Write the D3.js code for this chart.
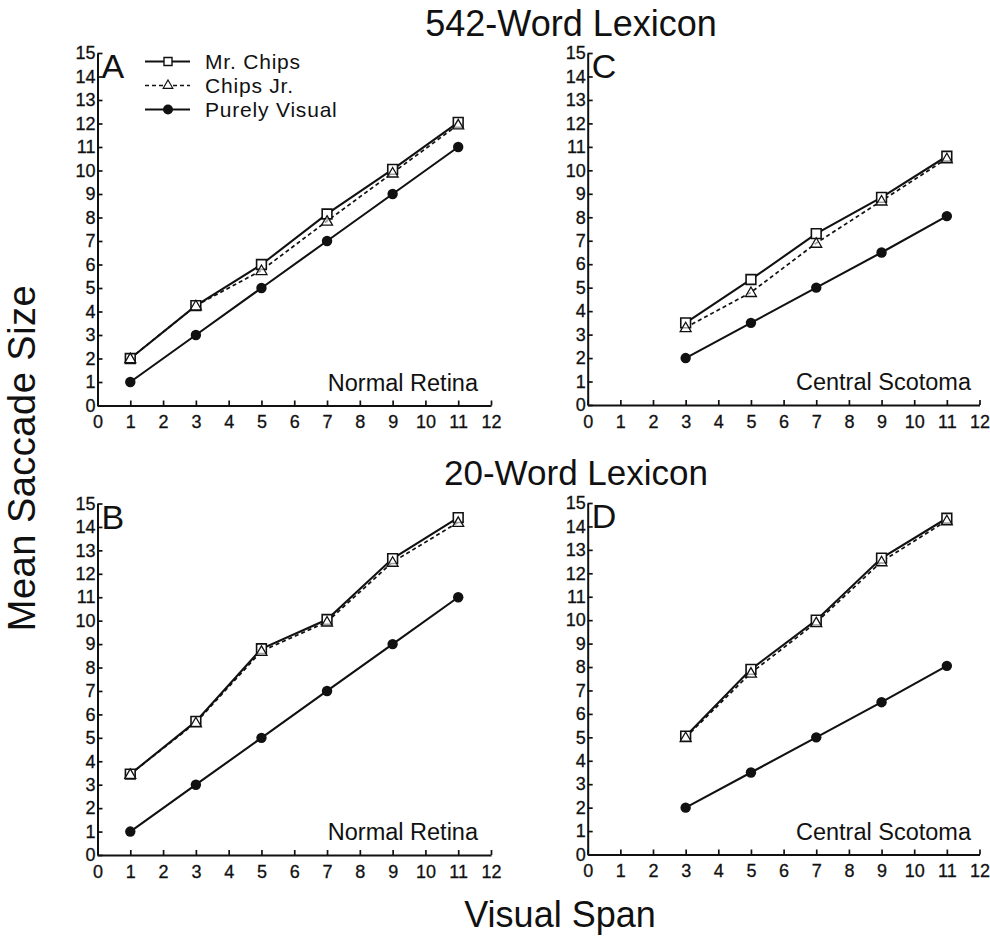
<!DOCTYPE html>
<html>
<head>
<meta charset="utf-8">
<script src="https://cdn.jsdelivr.net/npm/d3@7"></script>
<style>
  html, body { margin: 0; padding: 0; background: #fff; }
  svg { display: block; }
  text { font-family: "Liberation Sans", Arial, Helvetica, sans-serif; fill: #111; }
</style>
</head>
<body>
<svg id="chart" width="990" height="936"></svg>
<script>
// ---- data ----
const spanNormal = [1, 3, 5, 7, 9, 11];
const spanScotoma = [3, 5, 7, 9, 11];

const mrChipsA = [2.0, 4.25, 6.0, 8.15, 10.05, 12.05];
const chipsJrA = [2.0, 4.25, 5.75, 7.85, 9.9, 11.95];
const visualA  = [1, 3, 5, 7, 9, 11];

const mrChipsC = [3.5, 5.35, 7.3, 8.85, 10.6];
const chipsJrC = [3.3, 4.8, 6.9, 8.7, 10.5];
const visualC  = [2, 3.5, 5, 6.5, 8.05];

const mrChipsB = [3.45, 5.7, 8.8, 10.05, 12.65, 14.4];
const chipsJrB = [3.45, 5.65, 8.7, 9.95, 12.5, 14.2];
const visualB  = [1, 3, 5, 7, 9, 11];

const mrChipsD = [5.05, 7.9, 10.0, 12.65, 14.35];
const chipsJrD = [5.0, 7.75, 9.9, 12.5, 14.25];
const visualD  = [2, 3.5, 5, 6.5, 8.05];

const xTickLabels = [0, 1, 2, 3, 4, 5, 6, 7, 8, 9, 10, 11, 12];
const yTickLabels = [0, 1, 2, 3, 4, 5, 6, 7, 8, 9, 10, 11, 12, 13, 14, 15];

const seriesNames = ["Mr. Chips", "Chips Jr.", "Purely Visual"];
const panelLetters = ["A", "C", "B", "D"];
const panelConditions = ["Normal Retina", "Central Scotoma", "Normal Retina", "Central Scotoma"];
const rowTitles = ["542-Word Lexicon", "20-Word Lexicon"];
const yAxisTitle = "Mean Saccade Size";
const xAxisTitle = "Visual Span";

// ---- layout ----
const svg = d3.select("#chart");
svg.append("rect").attr("width", 990).attr("height", 936).attr("fill", "#fff");

const panels = [
  { letter: panelLetters[0], cond: panelConditions[0], xs: spanNormal, mr: mrChipsA, jr: chipsJrA, pv: visualA,
    left: 97.5, right: 491, bottom: 405.5, top: 53, condEnd: 478, legend: true },
  { letter: panelLetters[1], cond: panelConditions[1], xs: spanScotoma, mr: mrChipsC, jr: chipsJrC, pv: visualC,
    left: 587.7, right: 979.5, bottom: 405, top: 53, condEnd: 971 },
  { letter: panelLetters[2], cond: panelConditions[2], xs: spanNormal, mr: mrChipsB, jr: chipsJrB, pv: visualB,
    left: 97.5, right: 491, bottom: 855, top: 503.5, condEnd: 478 },
  { letter: panelLetters[3], cond: panelConditions[3], xs: spanScotoma, mr: mrChipsD, jr: chipsJrD, pv: visualD,
    left: 587.7, right: 979.5, bottom: 854.5, top: 503, condEnd: 971 }
];

const sqSym = d3.symbol().type(d3.symbolSquare).size(95);
const triSym = d3.symbol().type(d3.symbolTriangle).size(52);

panels.forEach(p => {
  const x = d3.scaleLinear().domain([0, 12]).range([p.left, p.right]);
  const y = d3.scaleLinear().domain([0, 15]).range([p.bottom, p.top]);
  const g = svg.append("g");

  // axes
  const xAxis = d3.axisBottom(x).tickValues(xTickLabels).tickFormat(d3.format("d"))
    .tickSizeInner(-5).tickSizeOuter(0).tickPadding(10);
  const yAxis = d3.axisLeft(y).tickValues(yTickLabels).tickFormat(d3.format("d"))
    .tickSizeInner(-5).tickSizeOuter(0).tickPadding(2);

  const gx = g.append("g").attr("transform", `translate(0,${p.bottom})`).call(xAxis);
  const gy = g.append("g").attr("transform", `translate(${p.left},0)`).call(yAxis);
  [gx, gy].forEach(a => {
    a.select(".domain").attr("stroke", "#111").attr("stroke-width", 2);
    a.selectAll(".tick line").attr("stroke", "#111").attr("stroke-width", 1.7);
    a.selectAll(".tick text").style("font-family", '"Liberation Sans", Arial, sans-serif')
      .style("font-size", "18px").attr("fill", "#111")
      .attr("stroke", "#111").attr("stroke-width", 0.3);
  });

  const line = d3.line().x(d => x(d[0])).y(d => y(d[1]));
  const mrPts = p.xs.map((v, i) => [v, p.mr[i]]);
  const jrPts = p.xs.map((v, i) => [v, p.jr[i]]);
  const pvPts = p.xs.map((v, i) => [v, p.pv[i]]);

  g.append("path").datum(jrPts).attr("d", line).attr("fill", "none")
    .attr("stroke", "#111").attr("stroke-width", 1.7).attr("stroke-dasharray", "4,3");
  g.append("path").datum(mrPts).attr("d", line).attr("fill", "none")
    .attr("stroke", "#111").attr("stroke-width", 2.1);
  g.append("path").datum(pvPts).attr("d", line).attr("fill", "none")
    .attr("stroke", "#111").attr("stroke-width", 2.1);

  g.selectAll(".sq").data(mrPts).enter().append("path")
    .attr("d", sqSym).attr("transform", d => `translate(${x(d[0])},${y(d[1])})`)
    .attr("fill", "#fff").attr("stroke", "#111").attr("stroke-width", 1.6);
  g.selectAll(".tri").data(jrPts).enter().append("path")
    .attr("d", triSym).attr("transform", d => `translate(${x(d[0])},${y(d[1]) + 1})`)
    .attr("fill", "#fff").attr("fill-opacity", 0.6).attr("stroke", "#111").attr("stroke-width", 1.3);
  g.selectAll(".dot").data(pvPts).enter().append("circle")
    .attr("cx", d => x(d[0])).attr("cy", d => y(d[1])).attr("r", 5.2).attr("fill", "#111");

  // panel letter
  g.append("text").attr("x", p.left + 4).attr("y", p.top + 25)
    .style("font-size", "34px").text(p.letter);
  // condition label
  g.append("text").attr("x", p.condEnd).attr("y", p.bottom - 15)
    .attr("text-anchor", "end").style("font-size", "23.5px").text(p.cond);

  if (p.legend) {
    const rows = [61.5, 85.5, 109.5];
    const lx0 = 145, lx1 = 190, lm = 168;
    const lg = svg.append("g");
    // Mr. Chips
    lg.append("line").attr("x1", lx0).attr("x2", lx1).attr("y1", rows[0]).attr("y2", rows[0])
      .attr("stroke", "#111").attr("stroke-width", 2);
    lg.append("path").attr("d", d3.symbol().type(d3.symbolSquare).size(64))
      .attr("transform", `translate(${lm},${rows[0]})`).attr("fill", "#fff").attr("stroke", "#111").attr("stroke-width", 1.4);
    // Chips Jr.
    lg.append("line").attr("x1", lx0).attr("x2", lx1).attr("y1", rows[1]).attr("y2", rows[1])
      .attr("stroke", "#111").attr("stroke-width", 1.6).attr("stroke-dasharray", "4,3");
    lg.append("path").attr("d", d3.symbol().type(d3.symbolTriangle).size(40))
      .attr("transform", `translate(${lm},${rows[1]})`).attr("fill", "#fff").attr("stroke", "#111").attr("stroke-width", 1.2);
    // Purely Visual
    lg.append("line").attr("x1", lx0).attr("x2", lx1).attr("y1", rows[2]).attr("y2", rows[2])
      .attr("stroke", "#111").attr("stroke-width", 2);
    lg.append("circle").attr("cx", lm).attr("cy", rows[2]).attr("r", 5).attr("fill", "#111");
    seriesNames.forEach((n, i) => {
      lg.append("text").attr("x", 205).attr("y", rows[i] + 7.5).style("font-size", "21px")
        .style("letter-spacing", "0.8px").text(n);
    });
  }
});

// row titles
svg.append("text").attr("x", 571).attr("y", 36).attr("text-anchor", "middle")
  .style("font-size", "36px").text(rowTitles[0]);
svg.append("text").attr("x", 576).attr("y", 485).attr("text-anchor", "middle")
  .style("font-size", "35px").text(rowTitles[1]);

// axis titles
svg.append("text").attr("transform", "translate(35,458) rotate(-90)").attr("text-anchor", "middle")
  .style("font-size", "38px").style("letter-spacing", "0.5px").text(yAxisTitle);
svg.append("text").attr("x", 560).attr("y", 927).attr("text-anchor", "middle")
  .style("font-size", "36px").text(xAxisTitle);
</script>
</body>
</html>
